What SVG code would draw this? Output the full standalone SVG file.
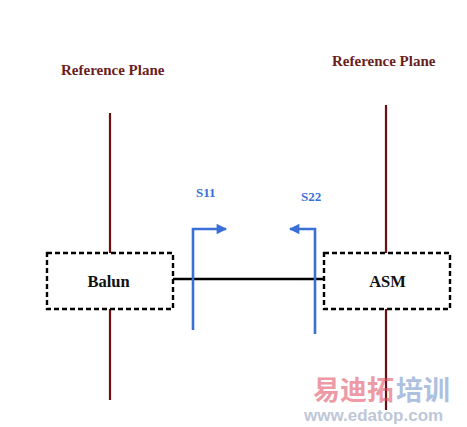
<svg xmlns="http://www.w3.org/2000/svg" width="467" height="427" viewBox="0 0 467 427">
<defs>
<style>
.ref{font-family:"Liberation Serif",serif;font-weight:bold;font-size:15px;fill:#6b1e1e}
.plane{stroke:#6b1010;stroke-width:2.2;fill:none}
.box{fill:#fff;stroke:#000;stroke-width:2.4;stroke-dasharray:5 3}
.lbl{font-family:"Liberation Serif",serif;font-weight:bold;font-size:16.5px;fill:#111;text-anchor:middle}
.blue{stroke:#3a6fd8;stroke-width:2.6;fill:none}
.sl{font-family:"Liberation Serif",serif;font-weight:bold;font-size:13px;fill:#3a6fd8}
</style>
<marker id="ah" viewBox="0 0 10 10" refX="9" refY="5" markerWidth="6" markerHeight="4" orient="auto" markerUnits="strokeWidth">
<path d="M0,0 L10,5 L0,10 z" fill="#3a6fd8"/>
</marker>
</defs>
<rect width="467" height="427" fill="#fff"/>
<g id="connectors">
<line class="plane" x1="110" y1="113" x2="110" y2="400"/>
<line class="plane" x1="386" y1="105" x2="386" y2="410"/>
<line x1="173" y1="279" x2="324" y2="279" stroke="#000" stroke-width="2.4"/>
<polyline class="blue" points="193,330 193,229 226,229" marker-end="url(#ah)"/>
<polyline class="blue" points="315,334 315,229 290,229" marker-end="url(#ah)"/>
</g>
<g id="refL"><text class="ref" x="61" y="75">Reference Plane</text></g>
<g id="refR"><text class="ref" x="332" y="66">Reference Plane</text></g>
<g id="balun">
<rect class="box" x="47" y="253" width="126" height="56"/>
<text class="lbl" x="108.5" y="287">Balun</text>
</g>
<g id="asm">
<rect class="box" x="324" y="253" width="126" height="56"/>
<text class="lbl" x="387.5" y="287">ASM</text>
</g>
<g id="s11"><text class="sl" x="196" y="197">S11</text></g>
<g id="s22"><text class="sl" x="301" y="201">S22</text></g>
<g id="watermark" opacity="0.55">
<text x="313" y="400" font-family="'Noto Sans CJK SC',sans-serif" font-weight="bold" font-size="27" fill="#e0485a">易迪拓</text>
<text x="396" y="400" font-family="'Noto Sans CJK SC',sans-serif" font-weight="bold" font-size="27" fill="#6b8ec8">培训</text>
<text x="304" y="421" font-family="'Liberation Sans',sans-serif" font-weight="bold" font-size="17" fill="#8a9ab8">www.edatop.com</text>
</g>
</svg>
